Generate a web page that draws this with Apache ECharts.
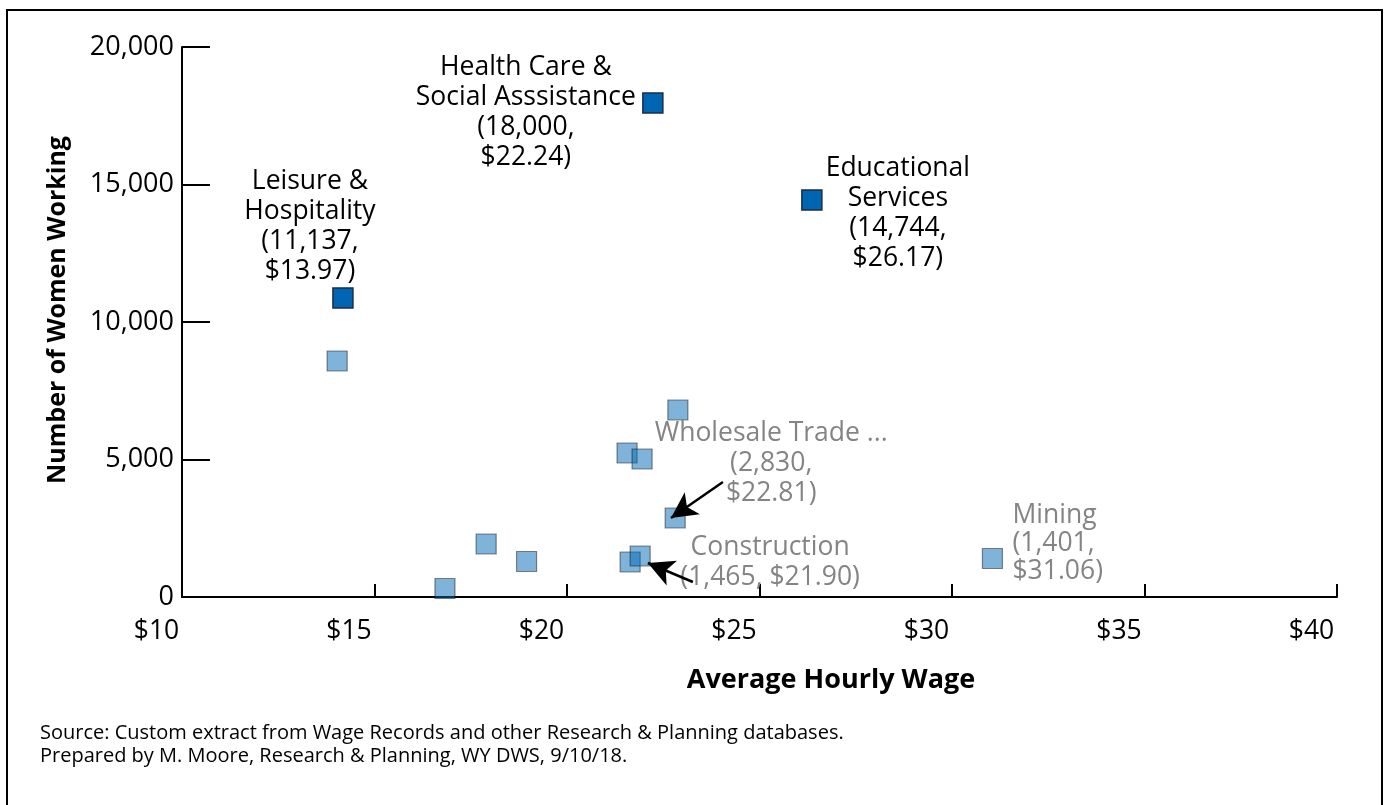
<!DOCTYPE html>
<html><head><meta charset="utf-8">
<script src="https://cdn.jsdelivr.net/npm/echarts@6/dist/echarts.min.js"></script>
<style>html,body{margin:0;padding:0;background:#fff}#c{width:1388px;height:805px}</style>
</head><body><div id="c"></div>
<script>
// ---- data ----
const xTicks = ['$10', '$15', '$20', '$25', '$30', '$35', '$40'];
const yTicks = ['0', '5,000', '10,000', '15,000', '20,000'];

const majorNames = ['Leisure & Hospitality', 'Health Care & Social Asssistance', 'Educational Services'];
const majorWage = [14.18, 22.23, 26.36];
const majorWomen = [10873, 17964, 14436];
const majorLabels = [
  'Leisure &\nHospitality\n(11,137,\n$13.97)',
  'Health Care &\nSocial Asssistance\n(18,000,\n$22.24)',
  'Educational\nServices\n(14,744,\n$26.17)'
];

const otherWage = [14.03, 22.88, 21.56, 21.95, 22.81, 17.90, 18.95, 16.83, 21.64, 21.90, 31.05];
const otherWomen = [8582, 6800, 5236, 5018, 2873, 1927, 1291, 309, 1273, 1491, 1400];
const otherLabels = ['', '', '', '', 'Wholesale Trade ...\n(2,830,\n$22.81)', '', '', '', '',
  'Construction\n(1,465, $21.90)', 'Mining\n(1,401,\n$31.06)'];

const arrowFrom = [[24.05, 4182], [23.27, 545]];
const arrowTo = [[22.70, 2873], [22.10, 1236]];

const titleX = 'Average Hourly Wage';
const titleY = 'Number of Women Working';
const sourceLines = [
  'Source: Custom extract from Wage Records and other Research & Planning databases.',
  'Prepared by M. Moore, Research & Planning, WY DWS, 9/10/18.'
];

// ---- label placement (style only) ----
const FONT = '"Open Sans"';
const LABEL_SIZE = 26.5;
const majorOffsets = [[-33, -72], [-127, 9], [86, 13]];
const otherPlacement = {
  4: {offset: [96, -55], align: 'center', lineHeight: 30},
  9: {offset: [130, 6], align: 'center', lineHeight: 30},
  10: {offset: [20, -15], align: 'left', lineHeight: 28}
};

const majorData = majorWage.map((w, i) => ({
  name: majorNames[i],
  value: [w, majorWomen[i]],
  label: {
    show: true, formatter: majorLabels[i], position: 'inside', offset: majorOffsets[i],
    align: 'center', verticalAlign: 'middle', color: '#000', fontFamily: FONT, fontSize: LABEL_SIZE, lineHeight: 30
  }
}));

const otherData = otherWage.map((w, i) => {
  const d = {value: [w, otherWomen[i]]};
  if (otherLabels[i]) {
    const p = otherPlacement[i];
    d.label = {
      show: true, formatter: otherLabels[i], position: 'inside', offset: p.offset,
      align: p.align, verticalAlign: 'middle', color: '#848484', fontFamily: FONT, fontSize: LABEL_SIZE,
      lineHeight: p.lineHeight, opacity: 1
    };
  }
  return d;
});

const chart = echarts.init(document.getElementById('c'), null, {renderer: 'canvas'});
chart.setOption({
  animation: false,
  backgroundColor: '#fff',
  grid: {left: 182, right: 51, top: 47, bottom: 208, containLabel: false},
  xAxis: {
    type: 'value', min: 10, max: 40, interval: 5,
    axisLine: {show: true, onZero: false, lineStyle: {color: '#000', width: 2}},
    axisTick: {show: true, inside: true, length: 13, lineStyle: {color: '#000', width: 2}},
    splitLine: {show: false},
    axisLabel: {
      formatter: v => xTicks[Math.round((v - 10) / 5)], color: '#000', fontFamily: FONT, fontSize: 26.5,
      margin: 21, padding: [0, 51, 0, 0]
    }
  },
  yAxis: {
    type: 'value', min: 0, max: 20000, interval: 5000,
    axisLine: {show: true, onZero: false, lineStyle: {color: '#000', width: 2}},
    axisTick: {show: true, inside: true, length: 28, lineStyle: {color: '#000', width: 2}},
    splitLine: {show: false},
    axisLabel: {
      formatter: v => yTicks[Math.round(v / 5000)], color: '#000', fontFamily: FONT, fontSize: 27,
      margin: 8, padding: [14, 0, 0, 0]
    }
  },
  series: [
    {
      type: 'scatter', name: 'Other industries', symbol: 'rect', symbolSize: 20,
      itemStyle: {color: '#0068b5', borderColor: '#1a1a1a', borderWidth: 1.2, opacity: 0.5},
      data: otherData,
      emphasis: {disabled: true},
      z: 2,
      markLine: {
        silent: true, animation: false,
        symbol: ['none', 'arrow'], symbolSize: [20, 26],
        lineStyle: {color: '#000', width: 2.5, type: 'solid', opacity: 1},
        itemStyle: {color: '#000'},
        label: {show: false},
        data: arrowFrom.map((f, i) => [{coord: f}, {coord: arrowTo[i]}])
      }
    },
    {
      type: 'scatter', name: 'Major industries', symbol: 'rect', symbolSize: 20,
      itemStyle: {color: '#0066b3', borderColor: '#1b2d45', borderWidth: 1.5, opacity: 1},
      data: majorData,
      emphasis: {disabled: true},
      z: 3
    }
  ],
  graphic: [
    {type: 'rect', shape: {x: 7, y: 10, width: 1375, height: 830}, style: {fill: 'none', stroke: '#000', lineWidth: 2}, silent: true},
    {type: 'text', x: 831, y: 680, style: {text: titleX, font: 'bold 27px ' + FONT, fill: '#000', textAlign: 'center', textVerticalAlign: 'middle'}},
    {type: 'text', x: 58, y: 310, rotation: Math.PI / 2, style: {text: titleY, font: 'bold 25px ' + FONT, fill: '#000', textAlign: 'center', textVerticalAlign: 'middle'}},
    {type: 'text', x: 40, y: 733, style: {text: sourceLines[0], font: '20px ' + FONT, fill: '#000', textVerticalAlign: 'middle'}},
    {type: 'text', x: 40, y: 756, style: {text: sourceLines[1], font: '20px ' + FONT, fill: '#000', textVerticalAlign: 'middle'}}
  ]
});
</script></body></html>
